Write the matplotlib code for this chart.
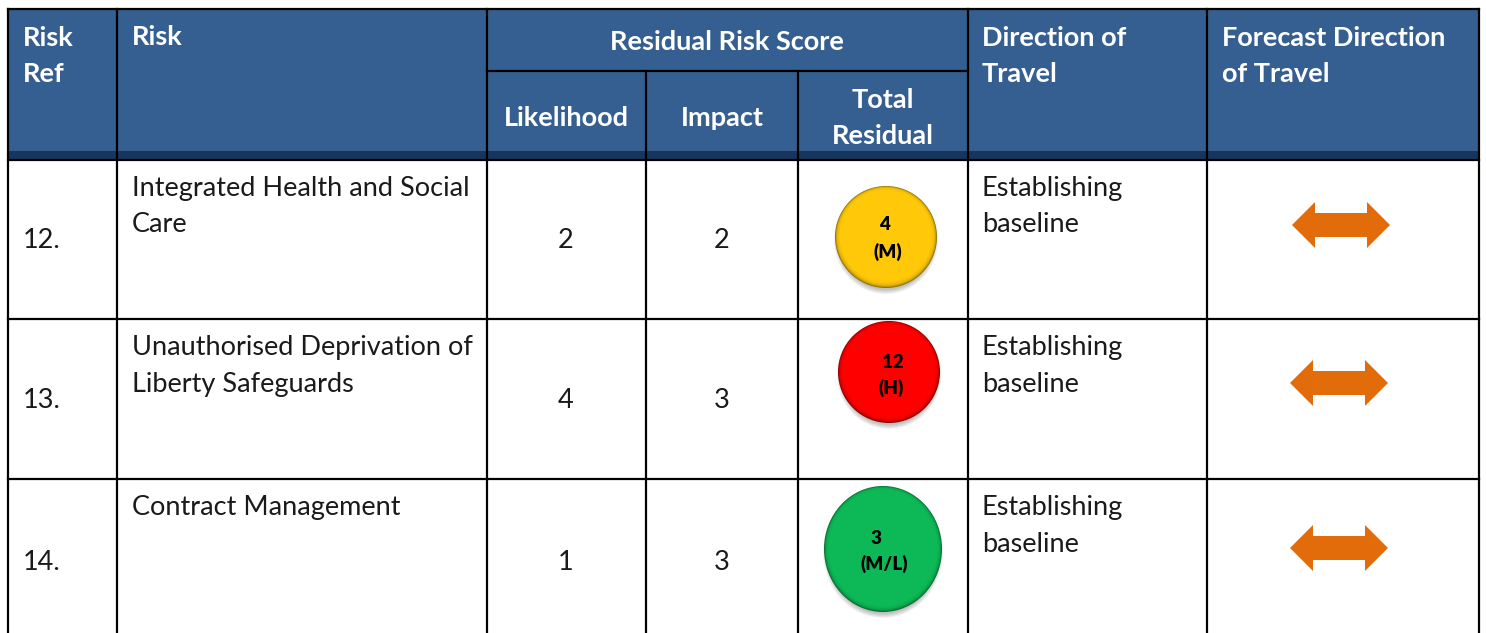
import matplotlib
matplotlib.use('Agg')
import matplotlib.pyplot as plt
from matplotlib.patches import Ellipse, Polygon, Rectangle

plt.rcParams['font.family'] = ['Lato', 'DejaVu Sans']

W, H = 1486, 633

# table content
risk_refs = ['12.', '13.', '14.']
risk_names = ['Integrated Health and Social\nCare', 'Unauthorised Deprivation of\nLiberty Safeguards', 'Contract Management']
likelihood = [2, 4, 1]
impact = [2, 3, 3]
total_residual = [4, 12, 3]
rating = ['(M)', '(H)', '(M/L)']
direction = ['Establishing\nbaseline', 'Establishing\nbaseline', 'Establishing\nbaseline']

# layout in pixels
col_x = [8, 117, 487, 646, 798, 968, 1207, 1479]
row_y = [160, 319, 479]
ref_y = [239, 399, 560]
name_y = [204.5, 364, 506]
dir_y = [204.5, 364, 524]
bubble_x = [886, 889, 883]
bubble_y = [237, 372, 549]
bubble_rx = [51, 51, 59]
bubble_ry = [51, 51, 63]
bubble_col = ['#FFC90A', '#FE0000', '#0DB957']
bubble_edge = ['#8F7000', '#8A0000', '#056B31']
score_pos = [(885, 223), (893, 361), (876, 537)]
rating_pos = [(888, 250), (891, 386), (884, 562)]
arrow_x = [1341, 1339, 1339]
arrow_y = [225, 383, 548]

HEAD = '#365F91'
BAND = '#17365D'
ORANGE = '#E36C0A'
TEXT = '#1A1A1A'
FS = 19.5
LS = 1.56

fig = plt.figure(figsize=(W / 100, H / 100), dpi=100)
ax = fig.add_axes([0, 0, 1, 1])
ax.set_xlim(0, W)
ax.set_ylim(H, 0)
ax.axis('off')

# header background
ax.add_patch(Rectangle((col_x[0], 9), col_x[-1] - col_x[0], 142, fc=HEAD, ec='none'))
ax.add_patch(Rectangle((col_x[0], 151), col_x[-1] - col_x[0], 9, fc=BAND, ec='none'))


def line(x0, y0, x1, y1):
    ax.plot([x0, x1], [y0, y1], color='black', lw=1.6, solid_capstyle='projecting', zorder=3)


line(col_x[0], 9, col_x[-1], 9)
line(col_x[2], 71, col_x[5], 71)
for y in row_y:
    line(col_x[0], y, col_x[-1], y)
for i, x in enumerate(col_x):
    top = 71 if i in (3, 4) else 9
    line(x, top, x, H)


def label(x, y, s, color=TEXT, weight='normal', size=FS, ha='left'):
    # va center sits about 2px high for this font
    ax.text(x, y + 2, s, color=color, fontsize=size, fontweight=weight, ha=ha, va='center',
            linespacing=LS, zorder=8)


def head(x, y, s, ha='left'):
    label(x, y, s, color='white', weight='bold', ha=ha)


head(23, 54, 'Risk\nRef')
head(132, 35, 'Risk')
head(727, 40, 'Residual Risk Score', ha='center')
head(566, 116, 'Likelihood', ha='center')
head(722, 116, 'Impact', ha='center')
head(883, 116, 'Total\nResidual', ha='center')
head(982, 54, 'Direction of\nTravel')
head(1222, 54, 'Forecast Direction\nof Travel')

for i in range(3):
    label(23, ref_y[i], risk_refs[i])
    label(132, name_y[i], risk_names[i])
    label(566, ref_y[i], str(likelihood[i]), ha='center')
    label(722, ref_y[i], str(impact[i]), ha='center')
    label(982, dir_y[i], direction[i])

    # bubble: soft shadow below, dark bevelled rim, flat face
    cx, cy, rx, ry = bubble_x[i], bubble_y[i], bubble_rx[i], bubble_ry[i]
    for k in range(5):
        ax.add_patch(Ellipse((cx, cy + 3), 2 * rx + 2 - k * 2, 2 * ry + 6 - k * 2, fc='black',
                             alpha=0.05, ec='none', zorder=4))
    ax.add_patch(Ellipse((cx, cy), 2 * rx, 2 * ry, fc=bubble_edge[i], ec='none', zorder=5))
    for k in range(1, 6):
        ax.add_patch(Ellipse((cx, cy - k * 0.2), 2 * rx - k * 1.3, 2 * ry - k * 1.3, fc=bubble_col[i],
                             alpha=0.4, ec='none', zorder=6))
    ax.add_patch(Ellipse((cx, cy - 1), 2 * rx - 9, 2 * ry - 9, fc=bubble_col[i], ec='none', zorder=7))
    label(score_pos[i][0], score_pos[i][1], str(total_residual[i]), color='black', weight='heavy', size=13.5, ha='center')
    label(rating_pos[i][0], rating_pos[i][1], rating[i], color='black', weight='heavy', size=13.5, ha='center')

    # double headed arrow
    mx, my = arrow_x[i], arrow_y[i]
    ax.add_patch(Polygon([(mx - 49, my), (mx - 26, my - 23), (mx - 26, my - 12), (mx + 26, my - 12),
                          (mx + 26, my - 23), (mx + 49, my), (mx + 26, my + 23), (mx + 26, my + 12),
                          (mx - 26, my + 12), (mx - 26, my + 23)], closed=True, fc=ORANGE, ec='none', zorder=4))

fig.savefig('out.png', dpi=100, facecolor='white')
